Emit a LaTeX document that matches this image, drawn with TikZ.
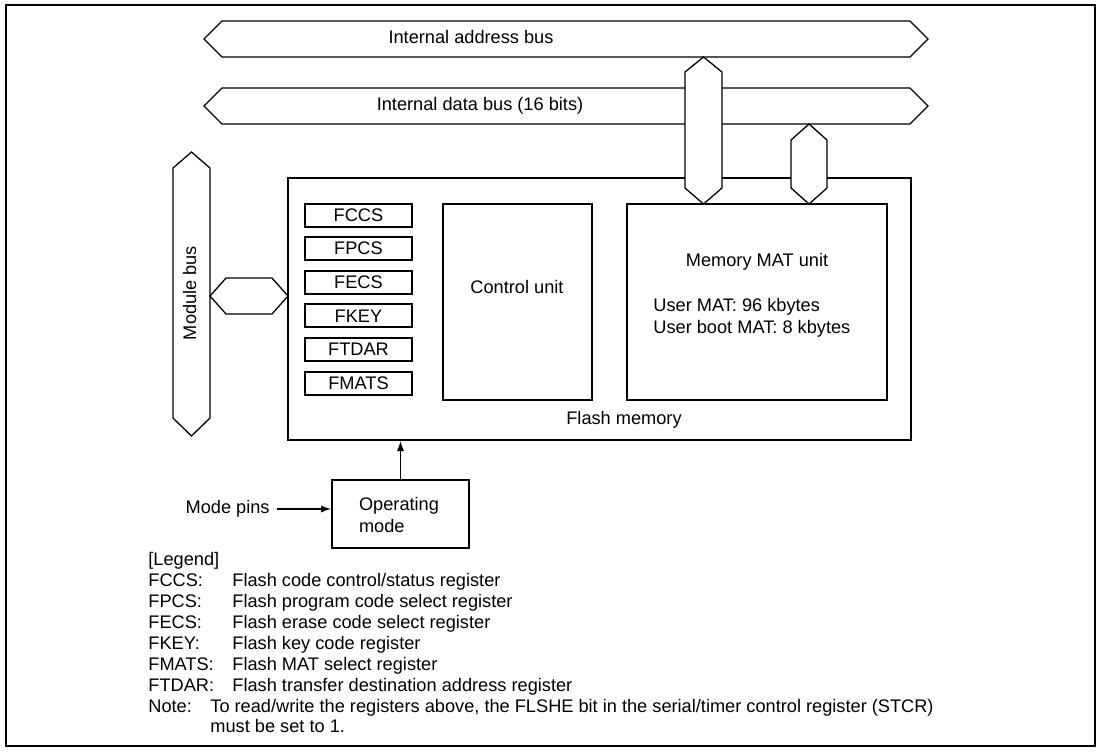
\documentclass[tikz,border=0pt]{standalone}
\usepackage{fontspec}
\setmainfont{Liberation Sans}
\usetikzlibrary{arrows.meta,positioning}

\begin{document}
\begin{tikzpicture}[x=0.5pt,y=-0.5pt,>={Latex[length=5pt,width=3.6pt]},
  box/.style={draw,line width=1pt,inner sep=0pt,fill=white},
  reg/.style={box,minimum width=53.5pt,minimum height=11.5pt,font=\fontsize{9.1}{11}\selectfont},
  bus/.style={draw,line width=0.65pt,fill=white},
  lbl/.style={inner sep=0pt,font=\fontsize{9.1}{11}\selectfont,text height=6.5pt,text depth=1.8pt}]
\useasboundingbox (0,0) rectangle (1102,752);
\draw[line width=1pt] (6,5) rectangle (1095,746);
% system buses
\foreach \y/\x/\t in {39/471/{Internal address bus},106/480/{Internal data bus (16 bits)}}{
  \draw[bus] (204,\y) -- (222,\y-18) -- (910,\y-18) -- (928,\y) -- (910,\y+18) -- (222,\y+18) -- cycle;
  \node[lbl] at (\x,\y) {\t};
}
% flash memory block
\node[box,minimum width=311.5pt,minimum height=131pt] (flash) at (599.5,309) {};
\node[box,minimum width=74.5pt,minimum height=98pt] (ctrl) at (517.5,302) {};
\node[box,minimum width=130pt,minimum height=98pt] (mat) at (757,302) {};
\node[lbl] (ctrltxt) at (517,289) {Control unit};
\node[lbl] (mattxt) at (757,262) {Memory MAT unit};
\node[lbl,anchor=west,align=left,text height=,text depth=] (matsize) at (653,318)
  {User MAT: 96 kbytes\\User boot MAT: 8 kbytes};
\node[lbl] (flashtxt) at (624,420) {Flash memory};
\foreach \r [count=\i from 0] in {FCCS,FPCS,FECS,FKEY,FTDAR,FMATS}
  \node[reg] (\r) at (358.5,{215+33.6*\i}) {\r};
% links from the buses into the MAT
\draw[bus] (703.5,57) -- (722,72) -- (722,188) -- (703.5,204) -- (685,188) -- (685,72) -- cycle;
\draw[bus] (809,124) -- (827,140) -- (827,188) -- (809,204) -- (791,188) -- (791,140) -- cycle;
% module bus
\draw[bus] (191.5,152) -- (210,168) -- (210,418) -- (191.5,436) -- (173,418) -- (173,168) -- cycle;
\node[lbl,rotate=90] (modbus) at (191.5,293) {Module bus};
\draw[bus] (210,296) -- (226,278) -- (272,278) -- (288,296) -- (272,314) -- (226,314) -- cycle;
% operating mode
\node[box,minimum width=68.5pt,minimum height=34pt] (opmode) at (400.5,514) {};
\node[lbl,align=left,text height=,text depth=] (optxt) at (399,515) {Operating\\mode};
\node[lbl,anchor=east] (pins) at (270,509) {Mode pins};
\draw[->,line width=0.65pt] ([xshift=3.5pt]pins.east) -- (pins.east -| opmode.west);
\draw[->,line width=0.65pt] (opmode.north) -- (opmode.north |- flash.south);
% legend
\node[lbl,anchor=west] (legend) at (148,561) {[Legend]};
\foreach \k/\d [count=\i] in {FCCS/{Flash code control/status register},
    FPCS/{Flash program code select register},FECS/{Flash erase code select register},
    FKEY/{Flash key code register},FMATS/{Flash MAT select register},
    FTDAR/{Flash transfer destination address register}}{
  \node[lbl,anchor=west] (key\i) at (148,{561+20.9*\i}) {\k:};
  \node[lbl,anchor=west] (desc\i) at (232,{561+20.9*\i}) {\d};
}
\node[lbl,anchor=west] (note) at (148,707.3) {Note:};
\node[lbl,anchor=west] (notetxt) at (210,707.3)
  {To read/write the registers above, the FLSHE bit in the serial/timer control register (STCR)};
\node[lbl,anchor=west] (notetxt2) at (210,728.2) {must be set to 1.};
\end{tikzpicture}
\end{document}
